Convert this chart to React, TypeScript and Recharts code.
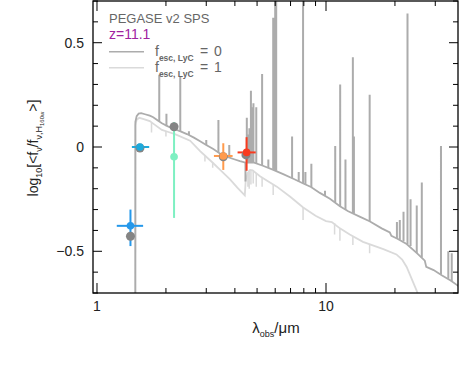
import React from 'react';
import { ComposedChart, Line, Scatter, XAxis, YAxis, ErrorBar } from 'recharts';

// ---------- data ----------
// continuum, f_esc,LyC = 0  [lambda_obs (um), log flux ratio]
const contEsc0: [number, number][] = [
  [1.47, -1.0], [1.471, 0.12], [1.49, 0.148], [1.52, 0.16], [1.56, 0.162], [1.62, 0.157],
  [1.7, 0.15], [1.76, 0.143], [1.85, 0.126], [1.92, 0.114], [2.05, 0.098], [2.19, 0.085],
  [2.33, 0.074], [2.47, 0.062], [2.65, 0.045], [2.82, 0.028], [3.0, 0.01], [3.22, -0.01],
  [3.45, -0.032], [3.68, -0.046], [4.0, -0.06], [4.21, -0.068], [4.45, -0.075], [4.82, -0.074],
  [5.3, -0.09], [5.89, -0.11], [6.5, -0.13], [7.2, -0.152], [8.0, -0.176], [8.6, -0.192],
  [9.4, -0.22], [10.4, -0.248], [11.5, -0.284], [12.5, -0.308], [14.1, -0.335], [15.5, -0.356],
  [17.5, -0.39], [19.0, -0.41], [19.3, -0.426], [20.5, -0.44], [22.5, -0.465], [25.0, -0.51],
  [27.0, -0.545], [27.4, -0.575], [29.5, -0.59], [32.0, -0.615], [35.0, -0.64], [38.0, -0.668],
];

// continuum, f_esc,LyC = 1
const contEsc1: [number, number][] = [
  [1.47, -1.0], [1.471, 0.105], [1.49, 0.13], [1.53, 0.14], [1.6, 0.134], [1.7, 0.124],
  [1.76, 0.112], [1.92, 0.082], [2.05, 0.072], [2.19, 0.062], [2.55, 0.03], [2.82, -0.02],
  [3.22, -0.078], [3.45, -0.11], [3.81, -0.155], [4.1, -0.195], [4.42, -0.232], [4.46, -0.16],
  [4.55, -0.125], [4.66, -0.11], [4.78, -0.112], [5.15, -0.14], [5.6, -0.165], [6.1, -0.19],
  [7.0, -0.24], [7.95, -0.29], [9.0, -0.33], [10.0, -0.355], [10.6, -0.36], [11.5, -0.39],
  [12.7, -0.42], [14.5, -0.455], [17.8, -0.49], [20.3, -0.515], [21.5, -0.54], [22.5, -0.575],
  [24.9, -0.69], [27.0, -0.8],
];

// nebular emission lines (f_esc = 0): [lambda, base, peak]
const linesEsc0: [number, number, number][] = [
  [1.87, 0.125, 0.346], [2.01, 0.1, 0.16], [2.31, 0.075, 0.34], [2.52, 0.058, 0.075],
  [3.0, 0.01, 0.034], [3.39, -0.028, 0.13], [3.78, -0.05, 0.01], [4.45, -0.075, -0.165],
  [4.51, -0.075, 0.14], [4.58, -0.075, 0.06], [4.63, -0.074, 0.09], [4.7, -0.074, 0.27],
  [4.76, -0.074, 0.19], [4.82, -0.074, 0.21], [4.96, -0.078, 0.19], [5.26, -0.09, 0.35],
  [5.6, -0.1, -0.06], [5.88, -0.11, 0.62], [6.0, -0.112, 1.2], [6.06, -0.114, 1.2],
  [7.11, -0.15, 0.05], [7.6, -0.165, -0.12], [7.94, -0.175, 1.2], [8.13, -0.18, -0.12],
  [8.63, -0.192, -0.08], [9.9, -0.235, -0.21], [10.97, -0.265, 0.005], [11.53, -0.285, 0.3],
  [12.16, -0.3, -0.06], [13.1, -0.318, 0.43], [13.24, -0.32, 0.05], [15.51, -0.356, 0.25],
  [20.4, -0.44, -0.36], [21.0, -0.445, -0.35], [21.8, -0.452, -0.31], [22.69, -0.465, 0.64],
  [23.4, -0.475, -0.25], [24.9, -0.508, -0.28], [26.2, -0.53, -0.17], [31.77, -0.61, 0.005],
  [34.2, -0.632, -0.5], [35.4, -0.642, -0.51],
];

// stellar absorption features (f_esc = 1): [lambda, base, trough]
const absEsc1: [number, number, number][] = [
  [1.73, 0.115, 0.07], [2.0, 0.075, 0.05], [2.96, -0.04, -0.07], [3.2, -0.075, -0.1],
  [4.56, -0.12, -0.19], [4.62, -0.11, -0.2], [4.7, -0.11, -0.18], [4.81, -0.112, -0.175],
  [4.96, -0.125, -0.19], [5.26, -0.145, -0.19], [5.88, -0.18, -0.23], [7.94, -0.29, -0.35],
  [10.9, -0.365, -0.42], [11.5, -0.39, -0.45], [13.1, -0.43, -0.47], [15.5, -0.47, -0.51],
];

// model photometry (grey)
const modelLam = [1.4, 1.54, 2.17, 3.56, 4.47];
const modelVal = [-0.428, -0.005, 0.097, -0.047, -0.038];

// observed photometry
const obsLam = [1.4, 1.54, 2.17, 3.56, 4.5];
const obsVal = [-0.378, 0.0, -0.047, -0.043, -0.026];
const obsLamLo = [0.18, 0.12, 0.07, 0.32, 0.39];
const obsLamHi = [0.19, 0.15, 0.07, 0.35, 0.43];
const obsErrLo = [0.097, 0.0, 0.293, 0.067, 0.088];
const obsErrHi = [0.078, 0.0, 0.167, 0.061, 0.073];
const obsColors = ['#2598ea', '#1eaadc', '#7ef0c2', '#ff9a4c', '#f83a1e'];

const xTicks = [1, 2, 3, 4, 5, 6, 7, 8, 9, 10, 20, 30];
const xTickLabels: Record<string, string> = { '1': '1', '10': '10' };
const yTicks = [-0.7, -0.6, -0.5, -0.4, -0.3, -0.2, -0.1, 0, 0.1, 0.2, 0.3, 0.4, 0.5, 0.6, 0.7];
const yTickLabels: Record<string, string> = { '-0.5': '\u22120.5', '0': '0', '0.5': '0.5' };

// ---------- derived series ----------
const toPts = (arr: [number, number][]) => arr.map(([x, y]) => ({ x, y }));
const toSegs = (arr: [number, number, number][]) =>
  arr.flatMap(([x, a, b]) => [{ x, y: a }, { x, y: b }, { x, y: null as number | null }]);

const cont0 = toPts(contEsc0);
const cont1 = toPts(contEsc1);
const lines0 = toSegs(linesEsc0);
const abs1 = toSegs(absEsc1);
const modelPts = modelLam.map((x, i) => ({ x, y: modelVal[i] }));
const obsSeries = obsLam.map((x, i) => [{
  x, y: obsVal[i], ex: [obsLamLo[i], obsLamHi[i]], ey: [obsErrLo[i], obsErrHi[i]],
}]);

// ---------- layout ----------
const W = 460, H = 388;
const P = { left: 93, right: 458, top: 1, bottom: 293 };
const FONT = '"Liberation Sans", Arial, Helvetica, sans-serif';
const DARK = '#acacac';
const LIGHT = '#dadada';

const XTick = (props: any) => {
  const { x, payload } = props;
  const key = String(payload.value);
  const lab = xTickLabels[key];
  const len = lab ? 10 : 5;
  return (
    <g>
      <line x1={x} x2={x} y1={P.bottom} y2={P.bottom - len} stroke="#000" strokeWidth={1} />
      <line x1={x} x2={x} y1={P.top} y2={P.top + len} stroke="#000" strokeWidth={1} />
      {lab && (
        <text x={x} y={311} textAnchor="middle" fontSize={14} fontFamily={FONT} fill="#222">{lab}</text>
      )}
    </g>
  );
};

const YTick = (props: any) => {
  const { y, payload } = props;
  const key = String(Math.round(payload.value * 10) / 10);
  const lab = yTickLabels[key];
  const len = lab ? 9 : 5;
  return (
    <g>
      <line x1={P.left} x2={P.left + len} y1={y} y2={y} stroke="#000" strokeWidth={1} />
      <line x1={P.right} x2={P.right - len} y1={y} y2={y} stroke="#000" strokeWidth={1} />
      {lab && (
        <text x={84} y={y + 5} textAnchor="end" fontSize={14} fontFamily={FONT} fill="#222">{lab}</text>
      )}
    </g>
  );
};

export default function App() {
  return (
    <div style={{ position: 'absolute', left: 0, top: 0, width: W, height: H, background: '#fff' }}>
      <ComposedChart width={W} height={H} margin={{ top: 1, right: 2, left: 33, bottom: 65 }}>
        <XAxis
          dataKey="x" type="number" scale="log" domain={[0.9606, 37.7]} allowDataOverflow
          ticks={xTicks} interval={0} tick={<XTick />} tickLine={false} axisLine={false} height={30}
        />
        <YAxis
          type="number" domain={[-0.7, 0.7]} allowDataOverflow ticks={yTicks} interval={0}
          tick={<YTick />} tickLine={false} axisLine={false} width={60}
        />
        <Line data={cont1} dataKey="y" stroke={LIGHT} strokeWidth={1.8} dot={false} isAnimationActive={false} />
        <Line data={abs1} dataKey="y" stroke={LIGHT} strokeWidth={1.5} dot={false} connectNulls={false} isAnimationActive={false} />
        <Line data={cont0} dataKey="y" stroke={DARK} strokeWidth={1.8} dot={false} isAnimationActive={false} />
        <Line data={lines0} dataKey="y" stroke={DARK} strokeWidth={2} dot={false} connectNulls={false} isAnimationActive={false} />
        <Scatter
          data={modelPts} dataKey="y" isAnimationActive={false}
          shape={(p: any) => <circle cx={p.cx} cy={p.cy} r={4.5} fill="#848484" />}
        />
        {obsSeries.map((d, i) => (
          <Scatter
            key={i} data={d} dataKey="y" isAnimationActive={false}
            shape={(p: any) => <circle cx={p.cx} cy={p.cy} r={3.8} fill={obsColors[i]} />}
          >
            <ErrorBar dataKey="ex" direction="x" width={0} stroke={obsColors[i]} strokeWidth={2} />
            <ErrorBar dataKey="ey" direction="y" width={0} stroke={obsColors[i]} strokeWidth={2} />
          </Scatter>
        ))}
      </ComposedChart>
      <svg width={W} height={H} style={{ position: 'absolute', left: 0, top: 0, pointerEvents: 'none' }}>
        <rect x={P.left} y={P.top} width={P.right - P.left} height={P.bottom - P.top} fill="none" stroke="#000" strokeWidth={1.3} />
        <g fontFamily={FONT}>
          <text x={109} y={23} fontSize={13} fill="#666">PEGASE v2 SPS</text>
          <text x={109} y={39} fontSize={14} fill="#a0229f">z=11.1</text>
          <line x1={109} x2={144} y1={51.7} y2={51.7} stroke={DARK} strokeWidth={1.5} />
          <text y={56} fontSize={14} fill="#666">
            <tspan x={155}>f</tspan>
            <tspan dy={5} fontSize={8.5} fontWeight="bold">esc, LyC</tspan>
            <tspan x={200} dy={-5}>=</tspan>
            <tspan x={214}>0</tspan>
          </text>
          <line x1={109} x2={144} y1={67.7} y2={67.7} stroke={LIGHT} strokeWidth={1.5} />
          <text y={72} fontSize={14} fill="#666">
            <tspan x={155}>f</tspan>
            <tspan dy={5} fontSize={8.5} fontWeight="bold">esc, LyC</tspan>
            <tspan x={200} dy={-5}>=</tspan>
            <tspan x={214}>1</tspan>
          </text>
          <text x={276} y={333} textAnchor="middle" fontSize={15} fill="#222">
            λ<tspan dy={4} fontSize={9}>obs</tspan><tspan dy={-4}>/μm</tspan>
          </text>
          <text x={38} y={148} textAnchor="middle" fontSize={14} fill="#222" transform="rotate(-90, 38, 148)">
            log<tspan dy={4} fontSize={9}>10</tspan>
            <tspan dy={-4}>[&lt;f</tspan>
            <tspan dy={4} fontSize={9}>ν</tspan>
            <tspan dy={-4}>/f</tspan>
            <tspan dy={4} fontSize={9}>ν,H</tspan>
            <tspan dy={2} fontSize={6}>160w</tspan>
            <tspan dy={-6}>&gt;]</tspan>
          </text>
        </g>
      </svg>
    </div>
  );
}
